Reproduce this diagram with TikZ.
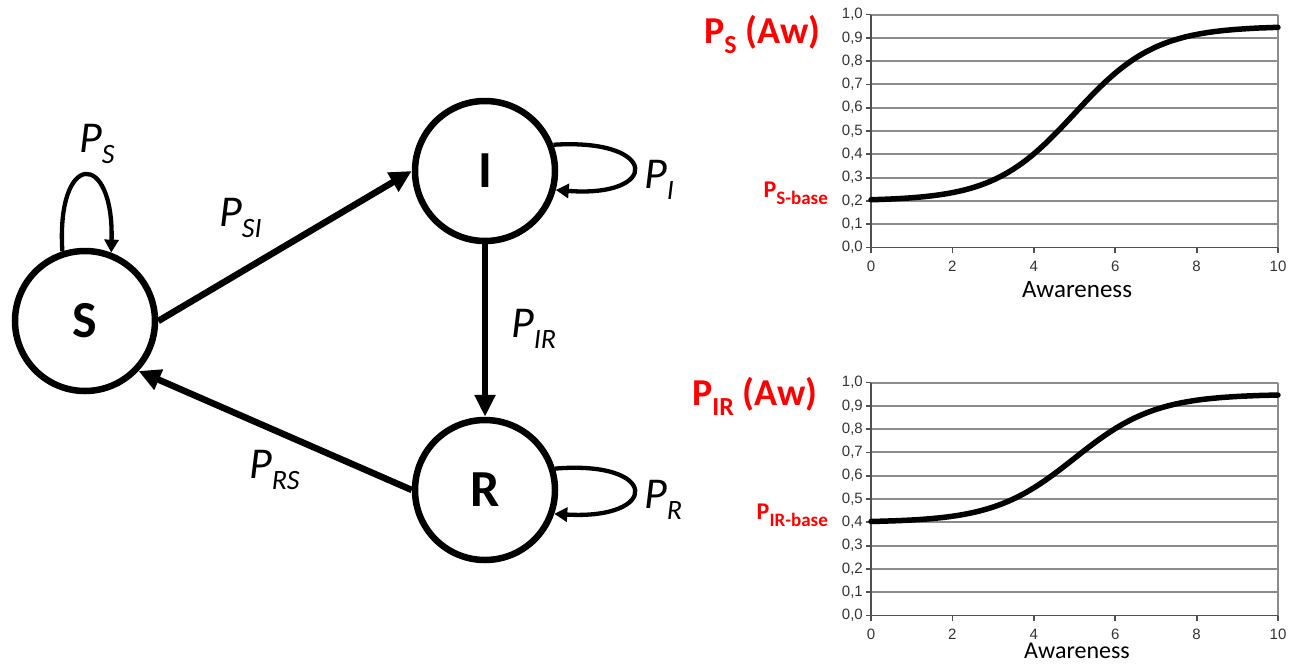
\documentclass[tikz,border=0pt]{standalone}
\usepackage{fontspec}
\setmainfont{Carlito}
\newfontfamily\arialf{Liberation Sans}
\usetikzlibrary{arrows.meta}
\definecolor{gridc}{RGB}{140,140,140}
\definecolor{axisc}{RGB}{80,80,80}
\definecolor{redc}{RGB}{255,0,0}
\newcommand\plab[1]{{\fontsize{44}{44}\selectfont\itshape P}\raisebox{-11pt}{\fontsize{28}{28}\selectfont\itshape #1}}
\newcommand\awlab[1]{{\fontsize{38}{38}\selectfont\bfseries P}\raisebox{-10pt}{\fontsize{26}{26}\selectfont\bfseries #1}{\fontsize{38}{38}\selectfont\bfseries\ (Aw)}}
\newcommand\baselab[1]{{\fontsize{24}{24}\selectfont\bfseries P}\raisebox{-7pt}{\fontsize{19}{19}\selectfont\bfseries #1-base}}
\tikzset{
  state/.style={circle, draw, line width=6.5pt, minimum size=140pt, inner sep=0pt, font=\fontsize{52}{52}\selectfont\bfseries},
  bigarrow/.style={line width=6.5pt, -{Triangle[length=22pt,width=21pt]}},
  midarrow/.style={line width=5.5pt, -{Triangle[length=22pt,width=20pt]}},
  selfloop/.style={line width=4.3pt, -{Triangle[length=13pt,width=14pt]}},
  gridline/.style={gridc, line width=2pt},
  axisline/.style={axisc, line width=1.8pt},
  ticklab/.style={font=\arialf\fontsize{15}{15}\selectfont, text=black!80, inner sep=0pt},
  curve/.style={black, line width=5.5pt, line cap=round},
  redlab/.style={text=redc, inner sep=0pt},
  plabel/.style={inner sep=0pt, anchor=base west}
}
\begin{document}
\begin{tikzpicture}[x=1pt,y=-1pt]
\useasboundingbox (0,0) rectangle (1297,664);
% states
\node[state] (S) at (85,321) {S};
\node[state] (I) at (485,171) {I};
\node[state] (R) at (485,490) {R};
% transitions
\draw[bigarrow] (S.east) -- (I.west);
\draw[midarrow] (I.south) -- (R.north);
\draw[bigarrow] (R.west) -- (S.-43);
% self loops
\draw[selfloop] (S.108) .. controls (56,150) and (114,150) .. (S.69);
\draw[selfloop] (I.21) .. controls (660,138) and (660,198) .. (I.-15);
\draw[selfloop] (R.17) .. controls (660,460) and (660,520) .. (R.-19);
% labels
\node[plabel] (lS) at (79,152) {\plab{S}};
\node[plabel] (lSI) at (219,226) {\plab{SI}};
\node[plabel] (lI) at (644,188) {\plab{I}};
\node[plabel] (lIR) at (511,337) {\plab{IR}};
\node[plabel] (lR) at (644,508) {\plab{R}};
\node[plabel] (lRS) at (249,478) {\plab{RS}};
% charts
\foreach \oy/\lo/\hi in {0/0.2/0.95, 368/0.4/0.95} {
  \foreach \k in {1,...,10} {
    \draw[gridline] (871,{247.5+\oy-23.3*\k}) -- (1278,{247.5+\oy-23.3*\k});
  }
  \draw[gridline] (1278,{247.5+\oy-233}) -- (1278,{247.5+\oy});
  \draw[axisline] (871,{247.5+\oy-233}) -- (871,{247.5+\oy}) -- (1278,{247.5+\oy});
  \foreach \k in {0,...,9} {
    \draw[axisline] (866,{247.5+\oy-23.3*\k}) -- (871,{247.5+\oy-23.3*\k});
    \node[ticklab, anchor=east] at (863,{247.5+\oy-23.3*\k}) {0,\k};
  }
  \draw[axisline] (866,{247.5+\oy-233}) -- (871,{247.5+\oy-233});
  \node[ticklab, anchor=east] at (863,{247.5+\oy-233}) {1,0};
  \foreach \k in {0,2,...,10} {
    \draw[axisline] ({871+40.7*\k},{247.5+\oy}) -- ({871+40.7*\k},{252.5+\oy});
    \node[ticklab] at ({871+40.7*\k},{266+\oy}) {\k};
  }
  \draw[curve] plot[domain=0:10, samples=90, smooth] ({871+40.7*\x},{\oy+247.5-233*(\lo+(\hi-\lo)/(1+exp(-(\x-5))))});
}
\node[inner sep=0pt, anchor=base, font=\fontsize{25}{25}\selectfont] (ax1) at (1077,297) {Awareness};
\node[inner sep=0pt, anchor=base, font=\fontsize{24}{24}\selectfont] (ax2) at (1077,658) {Awareness};
\node[redlab, anchor=base west] (aw1) at (704,43) {\awlab{S}};
\node[redlab, anchor=base west] (aw2) at (692,405) {\awlab{IR}};
\node[redlab, anchor=base east] (b1) at (828,197) {\baselab{S}};
\node[redlab, anchor=base east] (b2) at (828,519) {\baselab{IR}};
\end{tikzpicture}
\end{document}
